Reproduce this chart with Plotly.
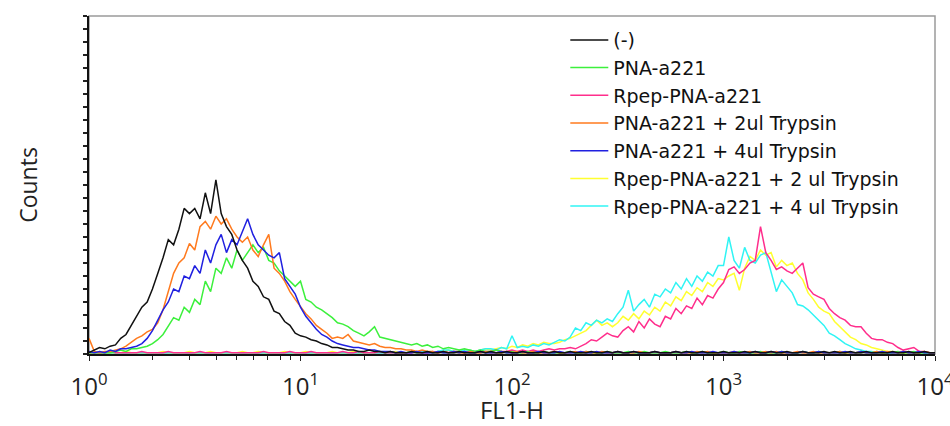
import plotly.graph_objects as go

# FL1-H histogram bins, in decades (log10 of FL1-H), 0.025-decade channels
FL1_DECADE_BINS = [round(i * 0.025, 3) for i in range(161)]

SERIES_NAMES = [
    "(-)",
    "PNA-a221",
    "Rpep-PNA-a221",
    "PNA-a221 + 2ul Trypsin",
    "PNA-a221 + 4ul Trypsin",
    "Rpep-PNA-a221 + 2 ul Trypsin",
    "Rpep-PNA-a221 + 4 ul Trypsin",
]

COUNTS_NEG = [
    1, 3, 5, 4, 6, 7, 12, 15, 22, 28,
    36, 40, 50, 62, 74, 88, 84, 96, 112, 108,
    112, 104, 124, 108, 134, 108, 98, 92, 80, 72,
    66, 56, 52, 44, 42, 33, 31, 25, 22, 16,
    14, 13, 11, 10, 8, 7, 5, 5, 4, 3,
    3, 2, 2, 3, 2, 2, 1, 2, 1, 1,
    1, 2, 1, 1, 2, 1, 1, 2, 1, 1,
    2, 1, 1, 1, 2, 1, 2, 1, 1, 2,
    1, 1, 2, 1, 1, 1, 2, 1, 2, 1,
    1, 2, 1, 1, 1, 2, 1, 1, 2, 1,
    2, 1, 1, 2, 1, 1, 1, 2, 1, 1,
    1, 2, 1, 2, 1, 1, 2, 1, 1, 1,
    2, 1, 1, 1, 2, 1, 2, 1, 1, 2,
    1, 1, 2, 1, 1, 2, 1, 1, 1, 2,
    1, 2, 1, 1, 2, 1, 1, 2, 1, 1,
    1, 1, 2, 1, 1, 2, 1, 1, 2, 1,
    1,
]

COUNTS_PNA = [
    1, 1, 1, 1, 1, 2, 3, 2, 4, 4,
    5, 6, 8, 11, 15, 22, 28, 26, 36, 32,
    42, 38, 56, 48, 66, 62, 74, 66, 80, 72,
    78, 84, 78, 82, 72, 70, 64, 60, 56, 52,
    56, 42, 40, 36, 34, 31, 28, 24, 23, 21,
    18, 16, 14, 17, 21, 13, 12, 11, 10, 9,
    8, 7, 8, 6, 7, 5, 6, 4, 5, 4,
    3, 4, 3, 2, 3, 2, 2, 3, 2, 1,
    2, 1, 1, 2, 1, 1, 2, 1, 1, 1,
    1, 2, 1, 1, 2, 1, 1, 1, 2, 1,
    1, 1, 2, 1, 1, 2, 1, 1, 1, 2,
    1, 1, 1, 2, 1, 1, 2, 1, 1, 1,
    2, 1, 1, 2, 1, 1, 1, 2, 1, 1,
    1, 2, 1, 1, 1, 2, 1, 1, 2, 1,
    1, 1, 2, 1, 1, 1, 2, 1, 1, 2,
    1, 1, 1, 2, 1, 1, 2, 1, 1, 1,
    1,
]

COUNTS_RPEP = [
    1, 1, 1, 1, 2, 1, 1, 1, 1, 1,
    2, 1, 1, 1, 1, 2, 1, 1, 1, 1,
    1, 2, 1, 1, 1, 1, 2, 1, 1, 1,
    1, 1, 1, 2, 1, 1, 1, 1, 2, 1,
    1, 1, 2, 1, 1, 1, 1, 1, 2, 1,
    1, 2, 1, 1, 1, 2, 1, 1, 1, 1,
    1, 1, 2, 1, 1, 2, 1, 2, 1, 2,
    2, 1, 2, 2, 1, 2, 2, 3, 2, 2,
    3, 2, 3, 2, 3, 2, 3, 4, 3, 4,
    4, 5, 4, 6, 8, 11, 10, 13, 16, 14,
    13, 18, 21, 17, 25, 20, 27, 23, 21, 29,
    27, 35, 31, 37, 35, 43, 38, 45, 43, 50,
    55, 65, 67, 62, 65, 70, 72, 98, 78, 72,
    65, 67, 64, 62, 66, 70, 51, 46, 44, 42,
    35, 31, 28, 26, 22, 21, 21, 16, 12, 11,
    11, 9, 8, 5, 3, 4, 5, 2, 2, 1,
    1,
]

COUNTS_PNA_T2 = [
    12, 2, 1, 2, 2, 3, 4, 6, 9, 12,
    14, 17, 19, 24, 34, 48, 62, 70, 74, 85,
    80, 98, 102, 96, 106, 100, 104, 96, 90, 86,
    90, 80, 75, 84, 92, 66, 62, 56, 48, 42,
    36, 31, 27, 22, 19, 16, 12, 13, 12, 15,
    10, 9, 8, 7, 8, 6, 5, 5, 4, 4,
    3, 3, 2, 3, 2, 2, 1, 2, 1, 2,
    1, 1, 2, 1, 1, 2, 1, 1, 1, 2,
    1, 2, 1, 1, 2, 1, 1, 1, 2, 1,
    1, 1, 2, 1, 2, 1, 1, 2, 1, 1,
    2, 1, 1, 1, 2, 1, 1, 2, 1, 1,
    1, 2, 1, 1, 1, 2, 1, 2, 1, 1,
    1, 1, 2, 1, 1, 2, 1, 1, 2, 1,
    2, 1, 1, 1, 2, 1, 1, 2, 1, 1,
    1, 1, 2, 1, 1, 1, 2, 1, 1, 2,
    1, 2, 1, 1, 2, 1, 1, 1, 2, 1,
    1,
]

COUNTS_PNA_T4 = [
    2, 1, 2, 1, 3, 2, 4, 4, 5, 6,
    8, 12, 18, 26, 34, 40, 50, 48, 60, 58,
    68, 62, 80, 70, 84, 92, 78, 88, 84, 94,
    104, 92, 84, 80, 76, 74, 78, 58, 52, 46,
    36, 29, 24, 19, 15, 13, 10, 8, 7, 6,
    5, 5, 4, 3, 3, 2, 2, 2, 1, 2,
    1, 1, 2, 1, 1, 1, 2, 1, 1, 2,
    1, 2, 1, 1, 2, 1, 1, 1, 2, 1,
    1, 1, 2, 1, 1, 2, 1, 1, 1, 2,
    1, 1, 1, 2, 1, 1, 2, 1, 1, 1,
    2, 1, 1, 2, 1, 1, 1, 2, 1, 1,
    1, 2, 1, 1, 2, 1, 1, 1, 2, 1,
    1, 1, 2, 1, 1, 1, 2, 1, 1, 2,
    1, 2, 1, 1, 1, 2, 1, 1, 2, 1,
    1, 1, 1, 2, 1, 1, 2, 1, 1, 1,
    2, 1, 1, 1, 2, 1, 1, 2, 1, 1,
    1,
]

COUNTS_RPEP_T2 = [
    1, 1, 2, 1, 1, 1, 1, 2, 1, 1,
    1, 1, 1, 1, 2, 1, 1, 1, 1, 2,
    1, 1, 1, 2, 1, 1, 1, 1, 1, 2,
    1, 1, 2, 1, 1, 1, 1, 2, 1, 1,
    1, 2, 1, 1, 1, 1, 2, 1, 1, 1,
    2, 1, 1, 1, 1, 2, 1, 1, 2, 1,
    1, 2, 1, 2, 2, 1, 2, 2, 3, 2,
    2, 3, 3, 2, 3, 4, 3, 4, 5, 4,
    6, 5, 7, 6, 8, 7, 9, 8, 8, 9,
    11, 12, 14, 16, 18, 22, 26, 22, 24, 21,
    24, 29, 26, 31, 27, 33, 30, 36, 33, 40,
    37, 44, 41, 48, 45, 51, 48, 55, 52, 58,
    57, 60, 62, 49, 66, 75, 72, 80, 76, 78,
    67, 72, 68, 70, 62, 57, 47, 42, 36, 33,
    31, 25, 21, 17, 13, 11, 8, 7, 5, 4,
    3, 2, 2, 1, 1, 1, 1, 1, 1, 1,
    1,
]

COUNTS_RPEP_T4 = [
    1, 1, 1, 1, 1, 1, 1, 1, 1, 1,
    1, 1, 1, 1, 1, 1, 1, 1, 1, 1,
    1, 1, 1, 1, 1, 1, 1, 1, 1, 1,
    1, 1, 1, 1, 1, 1, 1, 1, 1, 1,
    1, 1, 1, 1, 1, 1, 1, 1, 1, 1,
    1, 1, 1, 1, 1, 1, 1, 1, 1, 1,
    1, 2, 1, 2, 2, 1, 2, 3, 3, 2,
    2, 3, 3, 2, 3, 4, 4, 3, 5, 4,
    14, 5, 6, 5, 7, 6, 8, 7, 9, 11,
    10, 13, 20, 18, 24, 22, 26, 24, 27, 25,
    31, 36, 49, 33, 38, 42, 36, 46, 44, 50,
    47, 55, 50, 58, 52, 60, 56, 63, 60, 68,
    68, 90, 72, 66, 82, 72, 70, 76, 78, 62,
    48, 57, 52, 47, 38, 37, 34, 30, 26, 22,
    16, 14, 11, 8, 6, 4, 3, 2, 2, 1,
    2, 1, 1, 1, 2, 1, 1, 1, 1, 1,
    1,
]

SERIES_COUNTS = [
    COUNTS_NEG, COUNTS_PNA, COUNTS_RPEP, COUNTS_PNA_T2,
    COUNTS_PNA_T4, COUNTS_RPEP_T2, COUNTS_RPEP_T4,
]
SERIES_COLORS = [
    "#111111", "#3cf03c", "#ff2e8c", "#ff7a1e",
    "#2020e0", "#ffff30", "#30f4f4",
]

TICK_VALUES = [1, 10, 100, 1000, 10000]
TICK_LABELS = ["10<sup>0</sup>", "10<sup>1</sup>", "10<sup>2</sup>",
               "10<sup>3</sup>", "10<sup>4</sup>"]

FONT = "Open Sans"
LEGEND_FONT = "DejaVu Sans"

fl1 = [10 ** d for d in FL1_DECADE_BINS]

fig = go.Figure()
draw_order = [5, 6, 2, 1, 3, 4, 0]
for idx in draw_order:
    counts = SERIES_COUNTS[idx]
    n = min(len(fl1), len(counts))
    fig.add_trace(go.Scatter(
        x=fl1[:n], y=counts[:n], mode="lines",
        name=SERIES_NAMES[idx], legendrank=idx + 1,
        line=dict(color=SERIES_COLORS[idx], width=1.5),
        hoverinfo="skip",
    ))

minor_vals = [m * 10 ** k for k in range(4) for m in range(2, 10)]

fig.update_layout(
    width=950, height=426,
    margin=dict(l=89, r=15, t=16, b=72),
    paper_bgcolor="white", plot_bgcolor="white",
    font=dict(family=FONT, color="#222222"),
    showlegend=True,
    legend=dict(
        x=0.563, y=0.985, xanchor="left", yanchor="top",
        bgcolor="rgba(0,0,0,0)", borderwidth=0,
        font=dict(family=LEGEND_FONT, size=19, color="#111111"),
        itemwidth=38,
    ),
    shapes=[dict(type="rect", xref="paper", yref="paper", x0=0, y0=0, x1=1, y1=1,
                 line=dict(color="#9a9a9a", width=1.5), layer="below")],
)

fig.update_xaxes(
    type="log", range=[0, 4], automargin=False,
    tickmode="array", tickvals=TICK_VALUES, ticktext=TICK_LABELS,
    ticklabeloverflow="allow", ticklabelstandoff=5,
    ticks="outside", ticklen=5, tickcolor="#222222", tickwidth=1,
    minor=dict(tickmode="array", tickvals=minor_vals, ticks="outside",
               ticklen=4, tickcolor="#222222", tickwidth=1),
    tickfont=dict(size=24, family=FONT, color="#222222"),
    showgrid=False, zeroline=False,
    showline=True, linecolor="#111111", linewidth=2,
    title=dict(text="FL1-H", font=dict(size=24, family=FONT, color="#222222"), standoff=4),
)
fig.update_yaxes(
    range=[0, 260], dtick=10, tick0=0, automargin=False,
    ticks="outside", ticklen=4, tickcolor="#222222", tickwidth=1.5,
    showticklabels=False,
    showgrid=False, zeroline=False,
    showline=True, linecolor="#111111", linewidth=2,
    title=dict(text="Counts", font=dict(size=23, family=FONT, color="#222222"), standoff=39),
)

fig.write_html("out.html", config={"displayModeBar": False},
               post_script="document.body.style.margin='0px';")
